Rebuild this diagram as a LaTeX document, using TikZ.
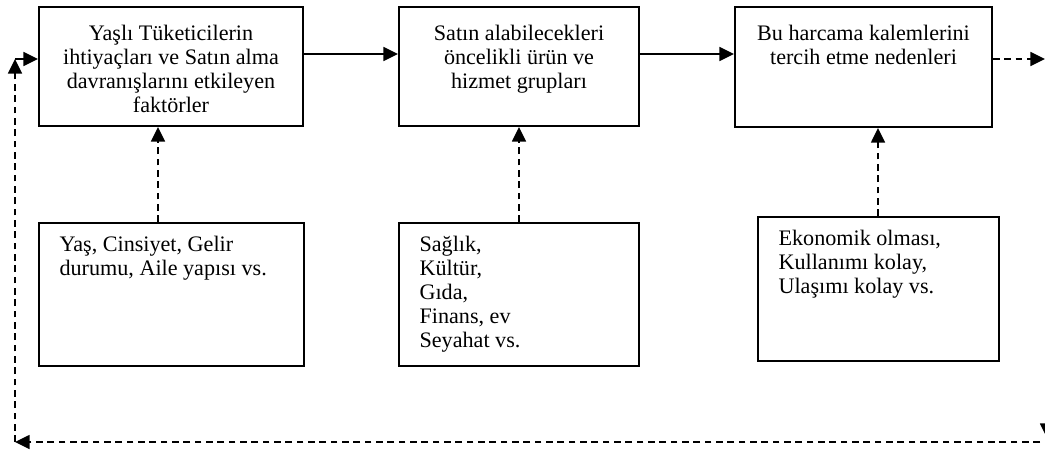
\documentclass[tikz,border=0pt]{standalone}
\usepackage{fontspec}
\setmainfont{Liberation Serif}
\usetikzlibrary{positioning,fit,arrows.meta}

\begin{document}
\begin{tikzpicture}[x=0.75pt,y=-0.75pt,font=\fontsize{16.6}{18}\selectfont,
  box/.style={draw,line width=1.5pt,inner sep=0pt},
  headtext/.style={align=center,inner sep=0pt},
  listtext/.style={align=left,inner sep=0pt},
  flow/.style={line width=1.2pt,-{Triangle[length=11pt,width=10.5pt]}},
  feed/.style={flow,dash pattern=on 5pt off 3.5pt}]
  \useasboundingbox (0,0) rectangle (1045,451);
  % top row: the three steps
  \node[box,fit={(39,7) (303,126)}] (needs) {};
  \node[box,fit={(399,7) (639,126)}] (groups) {};
  \node[box,fit={(735,7) (992,127)}] (reasons) {};
  \node[headtext,below=14.5pt of needs.north] (needstxt) {Yaşlı Tüketicilerin\\ihtiyaçları ve Satın alma\\davranışlarını etkileyen\\faktörler};
  \node[headtext,below=14.5pt of groups.north] (groupstxt) {Satın alabilecekleri\\öncelikli ürün ve\\hizmet grupları};
  \node[headtext,below=14.5pt of reasons.north] (reasonstxt) {Bu harcama kalemlerini\\tercih etme nedenleri};
  % bottom row: what feeds each step
  \node[box,fit={(39,223) (304,366)}] (factors) {};
  \node[box,fit={(399,223) (639,366)}] (areas) {};
  \node[box,fit={(758,217) (999,361)}] (merits) {};
  \node[listtext,below right=10.5pt and 16pt of factors.north west] (factorstxt) {Yaş, Cinsiyet, Gelir\\durumu, Aile yapısı vs.};
  \node[listtext,below right=10.5pt and 16pt of areas.north west] (areastxt) {Sağlık,\\Kültür,\\Gıda,\\Finans, ev\\Seyahat vs.};
  \node[listtext,below right=10.5pt and 16pt of merits.north west] (meritstxt) {Ekonomik olması,\\Kullanımı kolay,\\Ulaşımı kolay vs.};
  % arrows between the steps
  \coordinate (row) at (0,54);
  \draw[flow] (needs.east |- row) -- (groups.west |- row);
  \draw[flow] (groups.east |- row) -- (reasons.west |- row);
  \foreach \from/\to/\x in {factors/needs/158,areas/groups/519,merits/reasons/878}
    {\draw[feed] (\x,0 |- \from.north) -- (\x,0 |- \to.south);}
  % loop back round the picture
  \coordinate (outR) at (1045,59);
  \coordinate (downT) at (1047,59);
  \coordinate (downB) at (1047,438);
  \coordinate (backR) at (1040,442);
  \coordinate (backL) at (15,442);
  \coordinate (upT) at (15,59);
  \draw[feed] (reasons.east |- outR) -- (outR);
  \draw[feed] (downT) -- (downB);
  \draw[feed] (backR) -- (backL);
  \draw[feed] (backL) -- (upT);
  \draw[flow] (upT) -- (needs.west |- upT);
\end{tikzpicture}
\end{document}
